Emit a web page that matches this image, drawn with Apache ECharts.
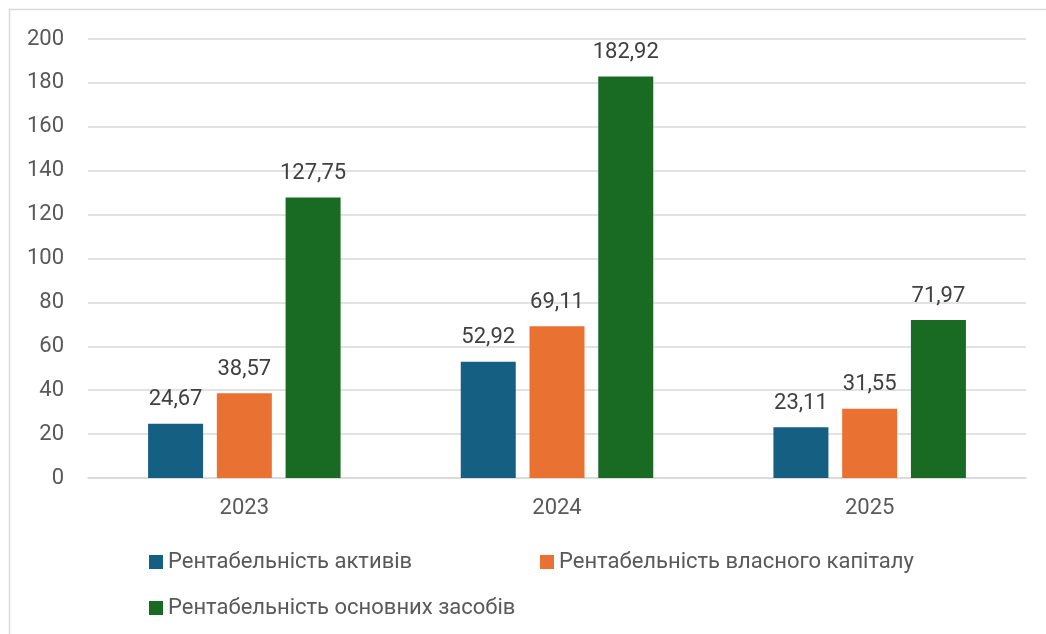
<!DOCTYPE html>
<html>
<head>
<meta charset="utf-8">
<script src="https://cdn.jsdelivr.net/npm/echarts@6/dist/echarts.min.js"></script>
<style>
html,body{margin:0;padding:0;background:#fff;}
#main{width:1046px;height:634px;}
</style>
</head>
<body>
<div id="main"></div>
<script>
const categories = ['2023', '2024', '2025'];
const seriesNames = ['Рентабельність активів', 'Рентабельність власного капіталу', 'Рентабельність основних засобів'];
const assetsROA = [24.67, 52.92, 23.11];
const equityROE = [38.57, 69.11, 31.55];
const fixedAssets = [127.75, 182.92, 71.97];
const yTicks = [0, 20, 40, 60, 80, 100, 120, 140, 160, 180, 200];
const colors = ['#156082', '#E97132', '#196B24'];

const font = 'Roboto, "Noto Sans", sans-serif';
const fs = 22;
const chart = echarts.init(document.getElementById('main'));
const lbl = {
  show: true, position: 'top', distance: 13,
  fontFamily: font, fontSize: fs, color: '#404040',
  formatter: p => p.value.toFixed(2).replace('.', ',')
};
const vals = [assetsROA, equityROE, fixedAssets];
const legendTextStyle = {fontFamily: font, fontSize: fs, color: '#595959'};
function mkLegend(name, left, top) {
  return {data: [name], left: left, top: top, itemWidth: 14, itemHeight: 14,
    itemGap: 6, icon: 'rect', textStyle: legendTextStyle, selectedMode: false, padding: 0};
}
chart.setOption({
  animation: false,
  color: colors,
  graphic: [{
    type: 'rect', shape: {x: 9.5, y: 9.5, width: 1100, height: 700},
    style: {fill: 'none', stroke: '#d9d9d9', lineWidth: 1.5}, silent: true, z: -1
  }],
  legend: [
    mkLegend(seriesNames[0], 149, 551),
    mkLegend(seriesNames[1], 540, 551),
    mkLegend(seriesNames[2], 149, 597)
  ],
  grid: {left: 88, right: 20, top: 39, bottom: 156, containLabel: false},
  xAxis: {
    type: 'category', data: categories,
    axisLine: {show: true, lineStyle: {color: '#d9d9d9', width: 1.5}},
    axisTick: {show: false},
    axisLabel: {fontFamily: font, fontSize: fs, color: '#595959', margin: 19}
  },
  yAxis: {
    type: 'value', min: yTicks[0], max: yTicks[yTicks.length - 1], interval: 20,
    axisLine: {show: false}, axisTick: {show: false},
    axisLabel: {fontFamily: font, fontSize: fs, color: '#595959', margin: 24},
    splitLine: {lineStyle: {color: '#d9d9d9', width: 1.5}}
  },
  series: seriesNames.map((n, i) => ({
    name: n, type: 'bar', data: vals[i], barWidth: 55, barGap: '25%',
    itemStyle: {color: colors[i]}, label: lbl
  }))
});
</script>
</body>
</html>
